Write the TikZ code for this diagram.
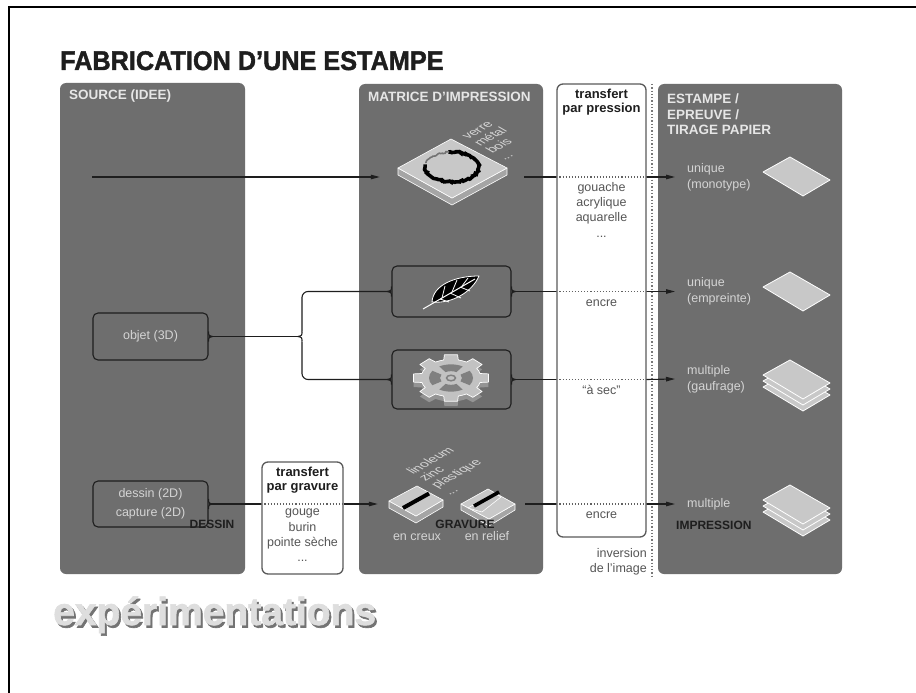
\documentclass[tikz,border=0pt]{standalone}
\usepackage{fontspec}
\setmainfont{Liberation Sans}
\newfontfamily\heavyfont[BoldFeatures={FakeBold=1.6}]{Liberation Sans}
\usetikzlibrary{arrows.meta,calc,decorations.pathmorphing}
\definecolor{panelc}{HTML}{6E6E6E}
\definecolor{ptxt}{HTML}{D4D4D4}
\definecolor{plbl}{HTML}{E6E6E6}
\definecolor{inkc}{HTML}{1E1E1E}
\definecolor{boxtxt}{HTML}{555555}
\definecolor{boxln}{HTML}{5A5A5A}
\definecolor{paperc}{HTML}{C8C8C8}
\definecolor{sidec}{HTML}{A5A5A5}
\definecolor{gearc}{HTML}{C2C2C2}
\definecolor{gearwin}{HTML}{808080}
\newcommand\myfs[2]{\fontsize{#1pt}{#2pt}\selectfont}
\newcommand\boxnotch[2]{\draw[conn] ($(#1)+(0,-5)$) .. controls ($(#1)+(0,-1)$) .. ($(#1)+(#2,0)$) .. controls ($(#1)+(0,1)$) .. ($(#1)+(0,5)$);}
\newcommand\sheetat[2]{\begin{scope}[shift={(#1,#2)}]\draw[sheet] (-34,-4) -- (-7,-19) -- (33,4) -- (6,20) -- cycle;\end{scope}}
\tikzset{
  panelbox/.style={fill=panelc, rounded corners=6pt, inner sep=0pt, draw=none},
  plabel/.style={text=plbl, font=\myfs{13.5}{15.5}\bfseries, inner sep=0pt, align=left},
  innerbox/.style={draw=inkc, line width=1.1pt, fill=panelc, rounded corners=5pt, inner sep=0pt, text=ptxt, font=\myfs{12.5}{19}, align=center},
  wbox/.style={draw=boxln, line width=1.3pt, fill=white, rounded corners=6pt, inner sep=0pt},
  ptext/.style={text=ptxt, font=\myfs{12.5}{16}, inner sep=0pt, align=left},
  btext/.style={text=boxtxt, font=\myfs{12.5}{15.3}, inner sep=0pt, align=center},
  ttitle/.style={text=inkc, font=\myfs{13}{14}\bfseries, inner sep=0pt, align=center},
  darklbl/.style={text=inkc, font=\myfs{12}{12}\bfseries, inner sep=0pt},
  isotxt/.style={text=ptxt, font=\myfs{13}{13}, inner sep=0pt, anchor=base west},
  conn/.style={draw=inkc, line width=1.1pt},
  arr/.style={conn, -{Triangle[length=9pt,width=4.5pt]}},
  dotl/.style={draw=inkc!70, line width=1.1pt, dotted},
  sheet/.style={fill=paperc, draw=white, line width=0.8pt, line join=round},
  solid3d/.style={draw=white, line width=0.6pt, line join=round},
  ghost/.style={inner sep=0pt, draw=none},
  outnode/.style={ptext, inner xsep=12pt, inner ysep=0pt, anchor=west},
}
\begin{document}
\begin{tikzpicture}[x=1pt,y=-1pt]
\useasboundingbox (0,0) rectangle (916,693);
\fill[white] (0,0) rectangle (916,693);
\draw[line width=2.5pt, black] (9,693) -- (9,7) -- (916,7);

% title
\node[anchor=base west, inner sep=0pt, text=inkc, font=\myfs{27}{27}\heavyfont\bfseries] (title) at (60,70) {\scalebox{0.935}[1]{FABRICATION D’UNE ESTAMPE}};

% panels
\node[panelbox, minimum width=185pt, minimum height=491pt] (src) at (152.5,328.5) {};
\node[panelbox, minimum width=184pt, minimum height=490pt] (mat) at (451,329) {};
\node[panelbox, minimum width=184pt, minimum height=490pt] (est) at (750,329) {};
\node[wbox, minimum width=89pt, minimum height=453pt] (tp) at (601.5,310.5) {};
\node[wbox, minimum width=81pt, minimum height=112pt] (tg) at (302.5,518) {};
\draw[inkc!60, line width=1.3pt, dotted] (652,84) -- (652,576);

% panel labels
\node[plabel, anchor=west] (srct) at (69,96) {SOURCE (IDEE)};
\node[plabel, anchor=west] (matt) at (368,97) {MATRICE D’IMPRESSION};
\node[plabel, anchor=west] (estt) at (667,114.5) {ESTAMPE /\\EPREUVE /\\TIRAGE PAPIER};
\node[ttitle, anchor=north] (tpt) at (601.5,89) {transfert\\par pression};
\node[ttitle, anchor=north] (tgt) at (302.5,467) {transfert\\par gravure};

% source boxes
\node[innerbox, minimum width=115pt, minimum height=47pt] (objet) at (150.5,336.5) {objet (3D)};
\node[innerbox, minimum width=115pt, minimum height=46pt] (dessin) at (150.5,504) {dessin (2D)\\capture (2D)};
\node[darklbl, anchor=base] (dessinl) at (212,528) {DESSIN};

% matrix boxes
\node[innerbox, minimum width=119pt, minimum height=51pt] (leaf) at (451.5,291.5) {};
\node[innerbox, minimum width=119pt, minimum height=59pt] (gear) at (451.5,379.5) {};
\node[ghost, minimum width=144pt, minimum height=70pt] (plate) at (452,177) {};
\node[ghost, minimum width=147pt, minimum height=50pt] (grav) at (451.5,504) {};

\boxnotch{objet.east}{4}
\boxnotch{dessin.east}{4}
\boxnotch{leaf.east}{4}
\boxnotch{leaf.west}{-4}
\boxnotch{gear.east}{4}
\boxnotch{gear.west}{-4}

% plate icon
\draw[fill=sidec, solid3d] (398,168) -- (452,198) -- (507,168) -- (507,175) -- (452,205) -- (398,175) -- cycle;
\draw[fill=paperc, solid3d] (398,168) -- (451,139) -- (507,168) -- (452,198) -- cycle;
\draw[line width=3.6pt, black, decorate, decoration={random steps, segment length=1.5pt, amplitude=0.9pt}] (452,167) ++(262:27 and 15) arc[start angle=262, end angle=550, x radius=27, y radius=15];
\draw[line width=1.6pt, black!55, decorate, decoration={random steps, segment length=1.5pt, amplitude=0.8pt}] (452,167) ++(195:27 and 15) arc[start angle=195, end angle=264, x radius=27, y radius=15];
\begin{scope}[shift={(468,140)}, cm={0.866,0.5,-0.866,0.5,(0,0)}, transform shape]
  \node[isotxt] (iso1) at (0,0) {verre};
  \node[isotxt] (iso2) at (0,14) {métal};
  \node[isotxt] (iso3) at (0,28) {bois};
  \node[isotxt] (iso4) at (0,42) {...};
\end{scope}

% leaf icon
\draw[fill=black, draw=white, line width=0.8pt, line join=round] (432,302) .. controls (433,285) and (455,276) .. (479,276) .. controls (472,292) and (452,304) .. (432,302) -- cycle;
\draw[white, line width=1pt] (423,309) -- (475,279);
\draw[white, line width=0.8pt] (442,298) -- (445,286) (452,292) -- (457,280) (462,286) -- (468,278)
  (440,299) -- (449,302) (450,293) -- (461,298) (460,287) -- (470,291);

% gear icon
\begin{scope}[shift={(451,378)}, yscale=0.62]
  \begin{scope}[shift={(0,8)}]
    \fill[black!42] (-14:30) \foreach \a in {0,45,...,315}{ -- (\a-14:30) -- (\a-10:38) -- (\a+10:38) -- (\a+14:30) arc[start angle=\a+14, end angle=\a+31, radius=30]} -- cycle;
  \end{scope}
  \draw[fill=gearc, draw=white, line width=0.7pt, line join=round] (-14:30) \foreach \a in {0,45,...,315}{ -- (\a-14:30) -- (\a-10:38) -- (\a+10:38) -- (\a+14:30) arc[start angle=\a+14, end angle=\a+31, radius=30]} -- cycle;
  \foreach \a in {0,90,180,270}{
    \fill[gearwin] (\a-32:22) arc[start angle=\a-32, end angle=\a+32, radius=22] -- (\a+30:11) arc[start angle=\a+30, end angle=\a-30, radius=11] -- cycle;
  }
  \fill[gearc] (0,0) circle[radius=8];
  \draw[gearwin, line width=1.5pt] (0,0) circle[radius=4.5];
\end{scope}

% gravure icons
\draw[fill=sidec, solid3d] (389,501) -- (416,516) -- (443,500) -- (443,507) -- (416,523) -- (389,508) -- cycle;
\draw[fill=paperc, solid3d] (389,501) -- (417,486) -- (443,500) -- (416,516) -- cycle;
\draw[line width=4pt, black] (403,508) -- (429,493.5);
\draw[fill=sidec, solid3d] (461,504) -- (489,519) -- (515,504) -- (515,510) -- (489,526) -- (461,510) -- cycle;
\draw[fill=paperc, solid3d] (461,504) -- (488,489) -- (515,504) -- (489,519) -- cycle;
\draw[fill=gearc, solid3d] (468,508) -- (494,493) -- (501,497) -- (482,512) -- cycle;
\draw[line width=3.6pt, black] (474,506) -- (499,492);
\begin{scope}[shift={(413,475)}, cm={0.866,0.5,-0.866,0.5,(0,0)}, transform shape]
  \node[isotxt] (iso5) at (0,0) {linoleum};
  \node[isotxt] (iso6) at (0,14) {zinc};
  \node[isotxt] (iso7) at (0,28) {plastique};
  \node[isotxt] (iso8) at (0,42) {...};
\end{scope}
\node[darklbl, anchor=base] (gravl) at (465,528) {GRAVURE};
\node[ptext, anchor=base] (creux) at (417,540) {en creux};
\node[ptext, anchor=base] (relief) at (487,540) {en relief};

% texts in white boxes
\node[btext, anchor=north] (tptx) at (601.5,182) {gouache\\acrylique\\aquarelle\\...};
\node[btext, anchor=base] (encre1) at (601.5,306) {encre};
\node[btext, anchor=base] (sec) at (601.5,394) {“à sec”};
\node[btext, anchor=base] (encre2) at (601.5,518) {encre};
\node[btext, anchor=north] (tgtx) at (302.5,509) {gouge\\burin\\pointe sèche\\...};
\node[btext, anchor=north east, align=right] (inv) at (647,548) {inversion\\de l’image};

% outputs
\node[outnode] (o1) at (675,177) {unique\\(monotype)};
\node[outnode] (o2) at (675,291.5) {unique\\(empreinte)};
\node[outnode] (o3) at (675,379) {multiple\\(gaufrage)};
\node[outnode] (o4) at (675,504) {multiple};
\node[darklbl, anchor=base west] (impr) at (676,529) {IMPRESSION};

% papers
\sheetat{797}{176}
\sheetat{797}{291}
\sheetat{797}{391}
\sheetat{797}{385}
\sheetat{797}{379}
\sheetat{797}{516}
\sheetat{797}{510}
\sheetat{797}{504}

% connectors row 1
\coordinate (r1s) at (92,177);
\draw[arr] (r1s) -- (plate.west);
\draw[conn] (plate.east) -- (tp.west |- plate.east);
\draw[dotl] (tp.west |- plate.east) -- (tp.east |- plate.east);
\draw[arr] (tp.east |- plate.east) -- (o1.west);

% objet branch
\coordinate (br) at (302,336.5);
\draw[conn] (objet.east) -- ($(br)+(-4,0)$);
\draw[conn, rounded corners=6pt] (leaf.west) -- (br |- leaf.west) -- ($(br)+(0,-5)$);
\draw[conn] ($(br)+(0,-5)$) .. controls ($(br)+(0,-1)$) .. ($(br)+(-4,0)$) .. controls ($(br)+(0,1)$) .. ($(br)+(0,5)$);
\draw[conn, rounded corners=6pt] ($(br)+(0,5)$) -- (br |- gear.west) -- (gear.west);

% row 2 and 3
\draw[conn] (leaf.east) -- (tp.west |- leaf.east);
\draw[dotl] (tp.west |- leaf.east) -- (tp.east |- leaf.east);
\draw[arr] (tp.east |- leaf.east) -- (o2.west);
\draw[conn] (gear.east) -- (tp.west |- gear.east);
\draw[dotl] (tp.west |- gear.east) -- (tp.east |- gear.east);
\draw[arr] (tp.east |- gear.east) -- (o3.west);

% row 4
\draw[conn] (dessin.east) -- (tg.west |- dessin.east);
\draw[dotl] (tg.west |- dessin.east) -- (tg.east |- dessin.east);
\draw[arr] (tg.east |- dessin.east) -- (grav.west);
\draw[conn] (grav.east) -- (tp.west |- grav.east);
\draw[dotl] (tp.west |- grav.east) -- (tp.east |- grav.east);
\draw[arr] (tp.east |- grav.east) -- (o4.west);

% bottom word with shadow
\node[anchor=base west, inner sep=0pt, text=black!55, font=\myfs{39}{39}\heavyfont\bfseries] (expsh) at (55,627.5) {expérimentations};
\node[anchor=base west, inner sep=0pt, text=black!13, font=\myfs{39}{39}\heavyfont\bfseries] (exp) at (53,625) {expérimentations};
\end{tikzpicture}
\end{document}
